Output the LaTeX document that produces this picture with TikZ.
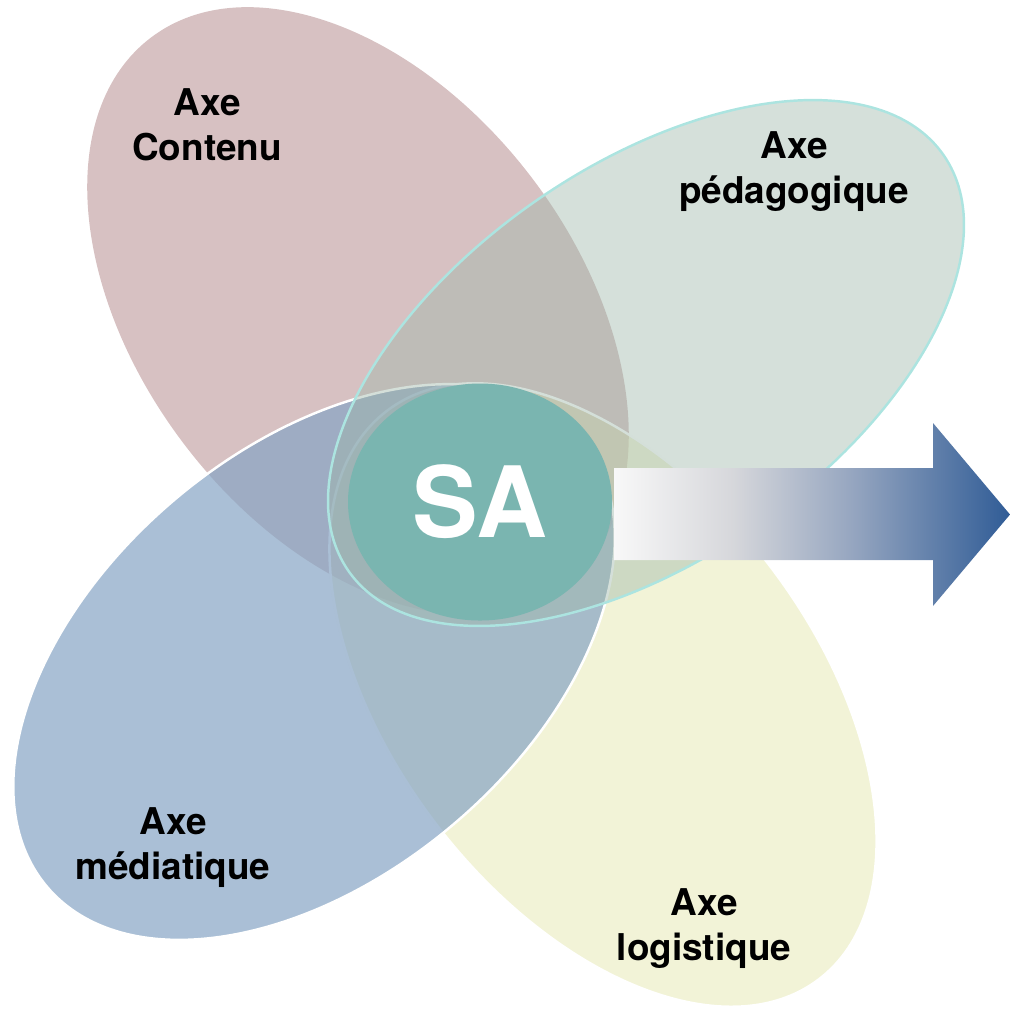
\documentclass[tikz,border=0pt]{standalone}
\usepackage{fontspec}
\setmainfont{TeX Gyre Heros}
\usepackage{xcolor}
\usepackage{tikz}
\usetikzlibrary{shapes.geometric}

\definecolor{contenuC}{RGB}{175,131,133}
\definecolor{pedaC}{RGB}{157,183,169}
\definecolor{mediaC}{RGB}{134,164,196}
\definecolor{logiC}{RGB}{229,231,175}
\definecolor{saC}{RGB}{122,181,176}
\definecolor{rimC}{RGB}{172,228,224}
\definecolor{arrowA}{RGB}{248,248,248}
\definecolor{arrowB}{RGB}{214,215,219}
\definecolor{arrowC}{RGB}{150,166,192}
\definecolor{arrowD}{RGB}{48,92,150}

\pgfdeclarehorizontalshading{arrowfade}{100bp}{color(0bp)=(arrowA); color(25bp)=(arrowA); color(40bp)=(arrowB); color(55bp)=(arrowC); color(75bp)=(arrowD); color(100bp)=(arrowD)}

\begin{document}
\begin{tikzpicture}[
    axe/.style={fill opacity=#1, line width=0.7pt},
    axelabel/.style={font=\bfseries\fontsize{10.5}{12.7}\selectfont, align=center, inner sep=0pt},
    sabox/.style={ellipse, fill=saC, minimum width=2.64cm, minimum height=2.37cm, inner sep=0pt,
                  text=white, font=\bfseries\fontsize{28}{30}\selectfont}
]
    \useasboundingbox (0,0) rectangle (10.10,-10.09);

    % Four axes
    \fill [axe=0.5, fill=contenuC, rotate around={-52.9:(3.58,-3.11)}] (3.58,-3.11) ellipse (3.43 and 2.19);
    \draw [axe=0.5, fill=logiC, draw=white, rotate around={-52.8:(6.03,-6.95)}] (6.03,-6.95) ellipse (3.57 and 2.11);
    \draw [axe=0.7, fill=mediaC, draw=white, rotate around={40:(3.14,-6.62)}] (3.14,-6.62) ellipse (3.49 and 2.14);
    \draw [axe=0.43, fill=pedaC, draw=rimC, rotate around={35:(6.46,-3.63)}] (6.46,-3.63) ellipse (3.63 and 1.96);

    % Centre
    \node [sabox] (sa) at (4.80,-5.02) {SA};

    % Arrow
    \shade [shading=arrowfade] (6.14,-4.68) -- (9.33,-4.68) -- (9.33,-4.23) -- (10.10,-5.145)
        -- (9.33,-6.06) -- (9.33,-5.60) -- (6.14,-5.60) -- cycle;

    % Labels
    \node [axelabel] (contenu) at (2.07,-1.245) {Axe\\Contenu};
    \node [axelabel] (peda) at (7.94,-1.715) {Axe\\pédagogique};
    \node [axelabel] (media) at (1.73,-8.475) {Axe\\médiatique};
    \node [axelabel] (logi) at (7.04,-9.285) {Axe\\logistique};
\end{tikzpicture}
\end{document}
